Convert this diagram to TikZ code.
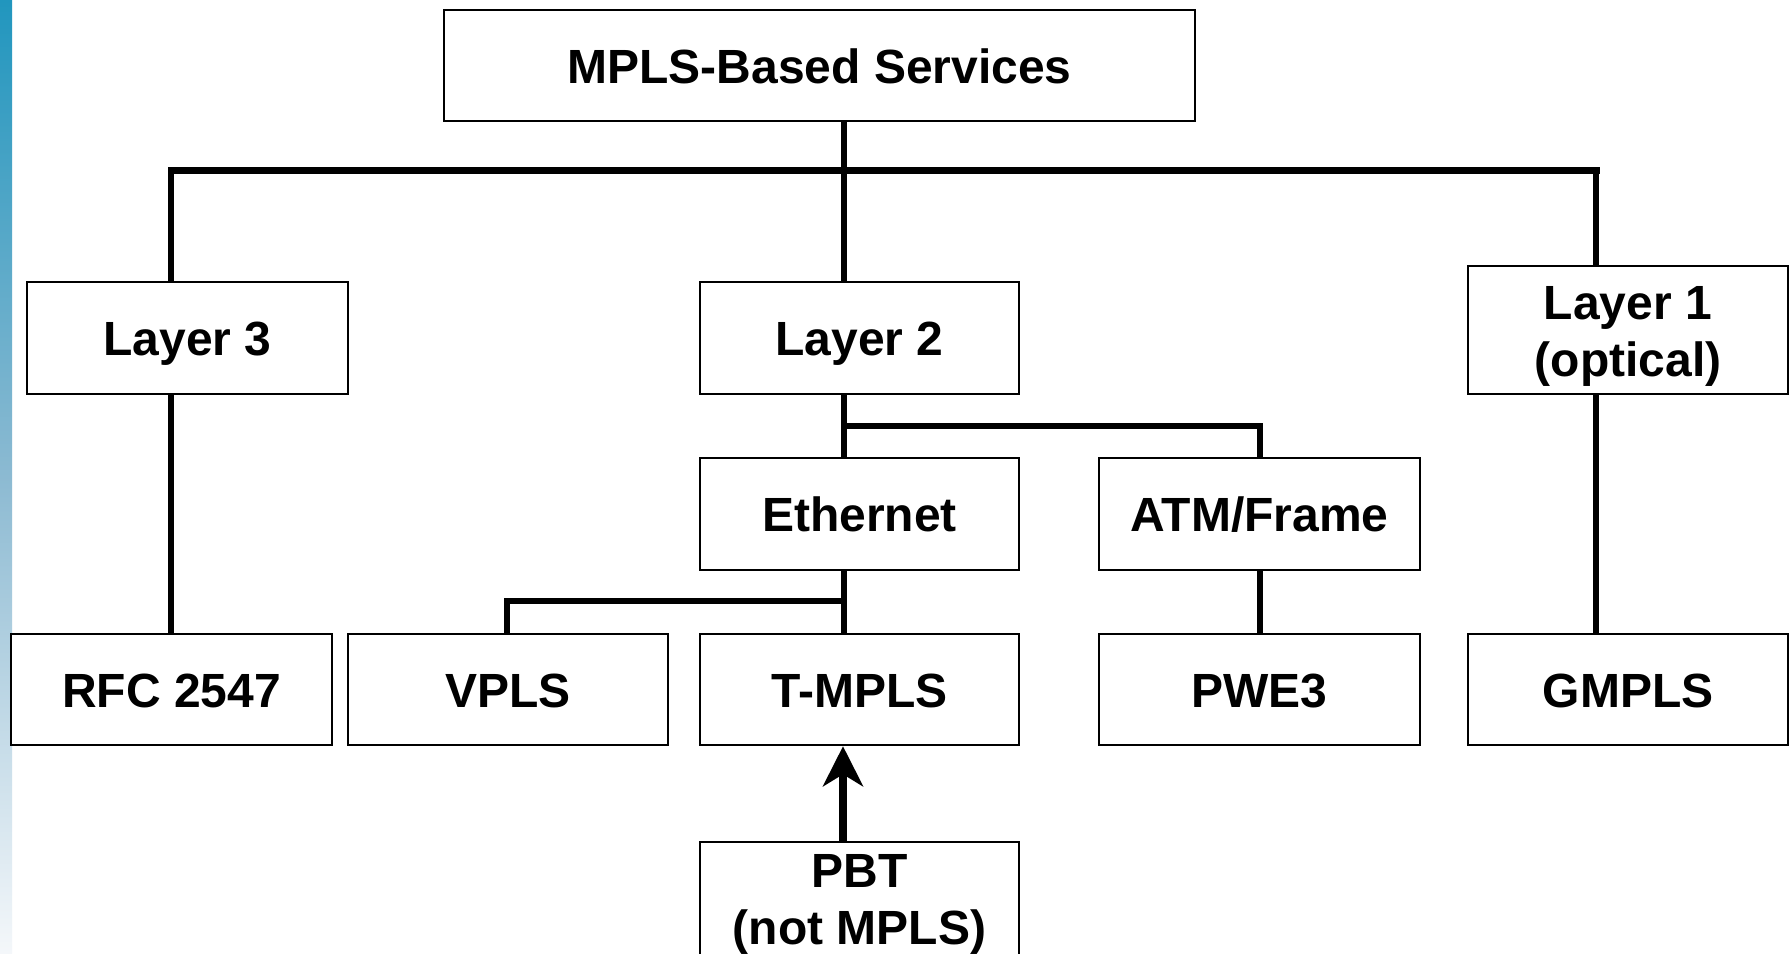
\documentclass[tikz,border=0pt]{standalone}
\usepackage{fontspec}
\setmainfont{Liberation Sans}
\usetikzlibrary{arrows.meta,calc}
\newcommand{\twolines}[3]{\raisebox{#1}[\height][\depth]{\begin{tabular}{@{}c@{}}#2\\#3\end{tabular}}}
\begin{document}
\begin{tikzpicture}[x=1pt,y=-1pt,
  box/.style={draw, line width=2.5pt, fill=white, inner sep=0pt,
    minimum width=320pt, minimum height=112pt,
    font=\fontsize{48}{57}\selectfont\bfseries},
  onel/.style={text height=35pt, text depth=0pt},
  conn/.style={line width=6pt, line cap=rect},
  bar/.style={line width=7pt, line cap=rect}]
\useasboundingbox (0,0) rectangle (1790,953);
\fill[white] (0,0) rectangle (1790,953);
\shade[top color={rgb,255:red,33;green,150;blue,190}, bottom color={rgb,255:red,244;green,247;blue,250}, middle color={rgb,255:red,140;green,186;blue,210}] (0,0) rectangle (12,953);

% junction coordinates
\coordinate (jc) at (844,170);
\coordinate (jl) at (171,170);
\coordinate (jr) at (1596,170);
\coordinate (j2) at (844,426);
\coordinate (ja) at (1260,426);
\coordinate (je) at (844,600.5);
\coordinate (jv) at (507,600.5);

% connectors (drawn first, boxes on top)
\draw[bar] (jl) -- (jr);

\node[box, onel, minimum width=751pt, minimum height=111pt] (top) at (819.5,65.5) {MPLS-Based Services};
\node[box, onel, minimum width=321pt] (l3) at (187.5,338) {Layer 3};
\node[box, onel, minimum width=319pt] (l2) at (859.5,338) {Layer 2};
\node[box, minimum height=128pt] (l1) at (1628,330) {\twolines{-7pt}{Layer 1}{(optical)}};
\node[box, onel, minimum width=319pt] (eth) at (859.5,514) {Ethernet};
\node[box, onel, minimum width=321pt] (atm) at (1259.5,514) {ATM/Frame};
\node[box, onel, minimum width=321pt, minimum height=111pt] (rfc) at (171.5,689.5) {RFC 2547};
\node[box, onel, minimum height=111pt] (vpls) at (508,689.5) {VPLS};
\node[box, onel, minimum width=319pt, minimum height=111pt] (tmpls) at (859.5,689.5) {T-MPLS};
\node[box, onel, minimum width=321pt, minimum height=111pt] (pwe) at (1259.5,689.5) {PWE3};
\node[box, onel, minimum height=111pt] (gmpls) at (1628,689.5) {GMPLS};
\node[box, minimum width=319pt, minimum height=120pt] (pbt) at (859.5,902) {\twolines{-3pt}{PBT}{(not MPLS)}};

\draw[conn, line cap=butt] (jc |- top.south) -- (jc |- l2.north);
\draw[conn, line cap=butt] (jl) -- (jl |- l3.north);
\draw[conn, line cap=butt] (jr) -- (jr |- l1.north);
\draw[conn, line cap=butt] (jl |- l3.south) -- (jl |- rfc.north);
\draw[conn, line cap=butt] (jr |- l1.south) -- (jr |- gmpls.north);
\draw[conn, line cap=butt] (j2 |- l2.south) -- (j2 |- eth.north);
\draw[conn] (j2) -- (ja);
\draw[conn, line cap=butt] (ja) -- (ja |- atm.north);
\draw[conn, line cap=butt] (ja |- atm.south) -- (ja |- pwe.north);
\draw[conn, line cap=butt] (je |- eth.south) -- (je |- tmpls.north);
\draw[conn] (jv) -- (je);
\draw[conn, line cap=butt] (jv) -- (jv |- vpls.north);
\draw[line width=7.5pt, -{Stealth[length=40pt, width=40pt, inset=12pt]}] (843,0 |- pbt.north) -- (843,0 |- tmpls.south);
\end{tikzpicture}
\end{document}
